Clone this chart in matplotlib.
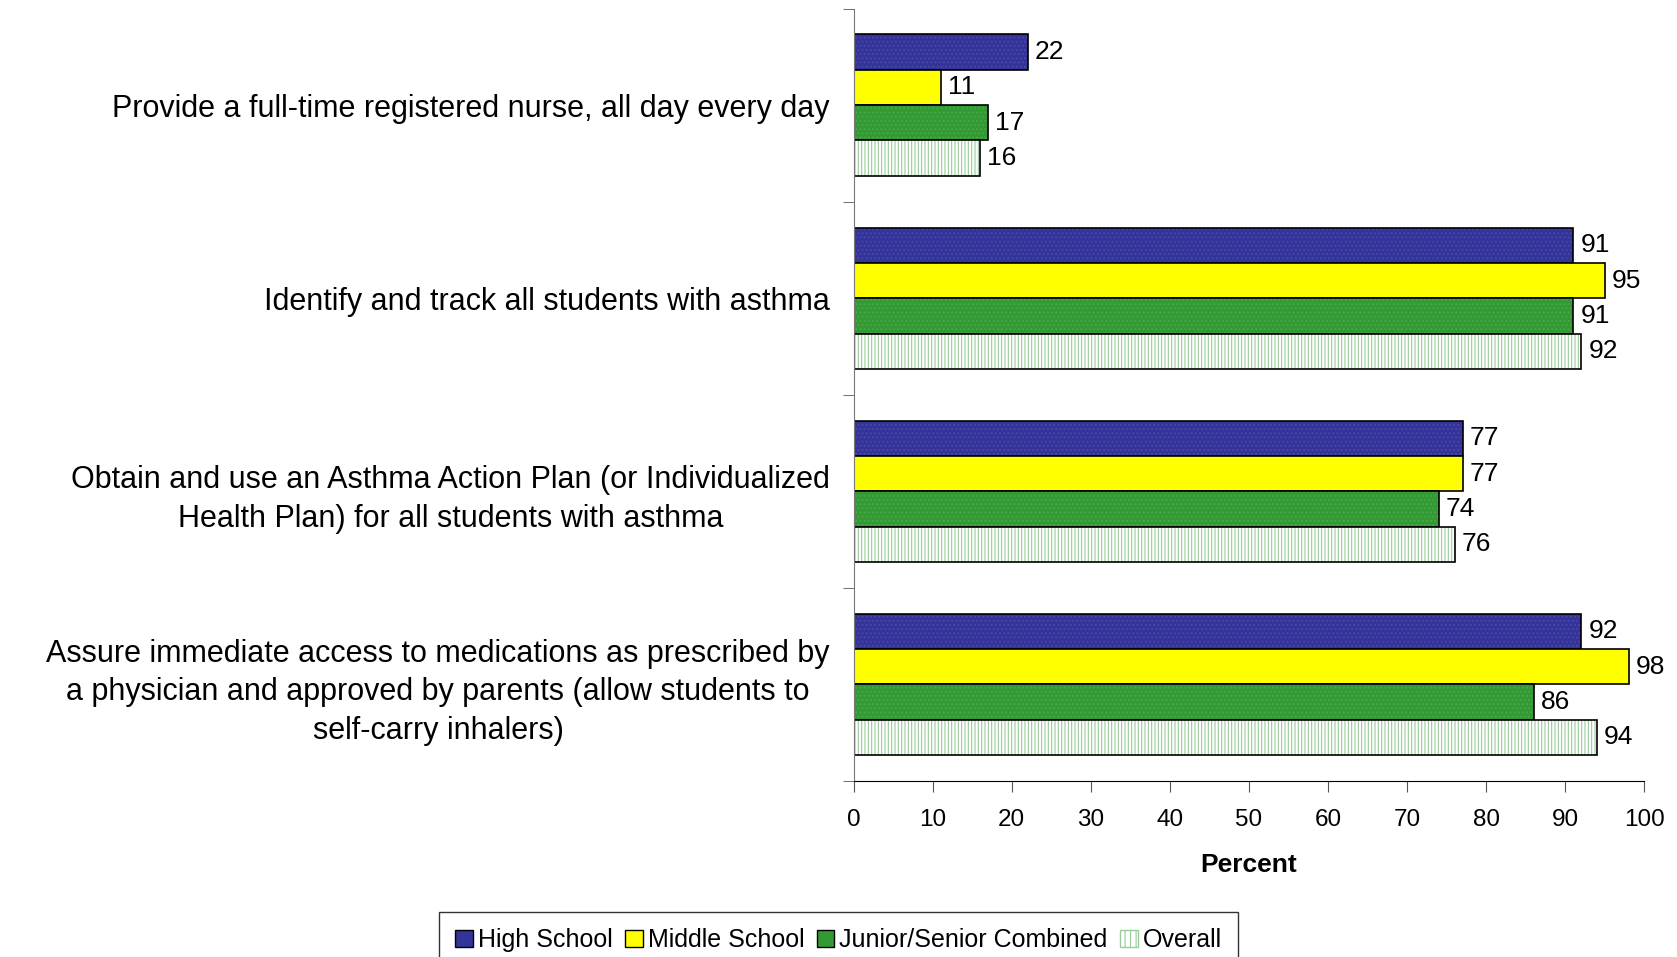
import matplotlib.pyplot as plt
import numpy as np
from matplotlib.patches import Patch

plt.rcParams["font.family"] = ["Liberation Sans", "DejaVu Sans"]
plt.rcParams["hatch.linewidth"] = 0.8

categories = [
    "Provide a full-time registered nurse, all day every day",
    "Identify and track all students with asthma",
    "Obtain and use an Asthma Action Plan (or Individualized\nHealth Plan) for all students with asthma",
    "Assure immediate access to medications as prescribed by\na physician and approved by parents (allow students to\nself-carry inhalers)",
]
series_names = ["High School", "Middle School", "Junior/Senior Combined", "Overall"]
high_school = [22, 91, 77, 92]
middle_school = [11, 95, 77, 98]
junior_senior = [17, 91, 74, 86]
overall = [16, 92, 76, 94]

series = [high_school, middle_school, junior_senior, overall]
faces = ["#333399", "#FFFF00", "#339933", "#FFFFFF"]
hatches = ["....", None, "....", "|||||"]
hatch_colors = ["#4a4aa8", None, "#4aa84a", "#99CC99"]

fig = plt.figure(figsize=(16.77, 9.57), dpi=100)
ax = fig.add_axes([0.509, 0.184, 0.4716, 0.807])

bar_h = 0.183
y = np.arange(len(categories))
for i, vals in enumerate(series):
    pos = y - 1.5 * bar_h + i * bar_h
    if hatches[i]:
        ax.barh(pos, vals, height=bar_h, color=faces[i], hatch=hatches[i],
                edgecolor=hatch_colors[i], linewidth=0)
    ax.barh(pos, vals, height=bar_h, facecolor="none" if hatches[i] else faces[i],
            edgecolor="black", linewidth=1.2)
    for p, v in zip(pos, vals):
        ax.text(v + 0.9, p, str(v), va="center", ha="left", fontsize=19)

ax.set_xlim(0, 100)
ax.set_ylim(3.5, -0.5)
ax.set_xticks(np.arange(0, 101, 10))
ax.tick_params(axis="x", labelsize=17.5, length=8, direction="out", pad=12, color="#555555")
ax.set_yticks(y)
ax.set_yticklabels(categories, fontsize=22, multialignment="center", linespacing=1.38)
ax.tick_params(axis="y", length=0, pad=17)
ax.set_yticks(np.arange(-0.5, 3.6, 1), minor=True)
ax.tick_params(axis="y", which="minor", length=8, color="#555555")
ax.set_xlabel("Percent", fontsize=19, fontweight="bold", labelpad=16)

for s in ["top", "right"]:
    ax.spines[s].set_visible(False)
ax.spines["left"].set_color("#777777")
ax.spines["bottom"].set_color("black")

handles = [Patch(facecolor=faces[i], edgecolor="black") for i in range(3)]
handles.append(Patch(facecolor="white", edgecolor="#99CC99", hatch="|||"))
leg = fig.legend(handles, series_names, loc="lower center", bbox_to_anchor=(0.5, -0.025),
                 ncol=4, fontsize=18, frameon=True, fancybox=False, handlelength=0.7,
                 handleheight=0.7, handletextpad=0.2, columnspacing=0.5, borderpad=0.65)
leg.get_frame().set_edgecolor("black")
leg.get_frame().set_linewidth(1.0)

fig.savefig("out.png", dpi=100)
